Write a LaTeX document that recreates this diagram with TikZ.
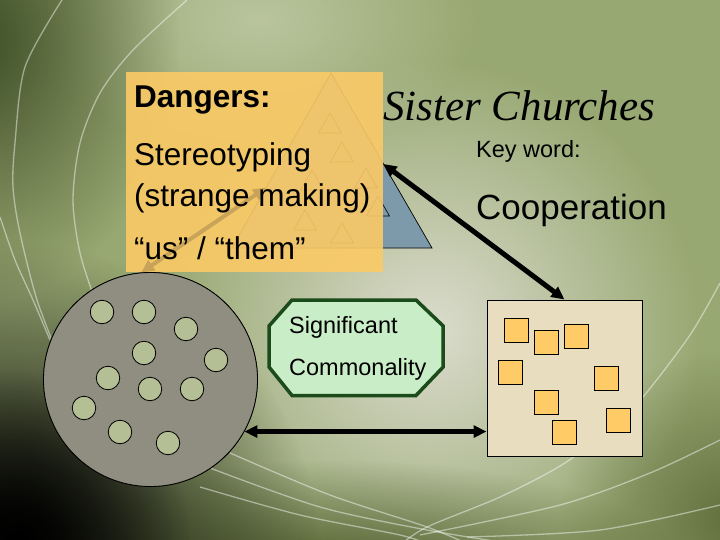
\documentclass[tikz,border=0pt]{standalone}
\usepackage{fontspec}
\setmainfont{Liberation Sans}
\newfontfamily\timesfont{Liberation Serif}
\usetikzlibrary{arrows.meta,fadings,calc}
\tikzfading[name=softdisc, inner color=transparent!0, outer color=transparent!100]
\definecolor{bgbase}{HTML}{98A872}
\definecolor{bglight}{HTML}{DCDDCE}
\definecolor{bgband}{HTML}{BAC59E}
\definecolor{bgdark}{HTML}{34441E}
\definecolor{bgbottom}{HTML}{4A5828}
\definecolor{orangebox}{HTML}{FBCA66}
\definecolor{faintarrow}{HTML}{C9A458}
\definecolor{triblue}{HTML}{7D9AAA}
\definecolor{circgray}{HTML}{908E80}
\definecolor{dotgreen}{HTML}{B5BF95}
\definecolor{sqbg}{HTML}{E8DDBF}
\definecolor{sqorange}{HTML}{FFCB66}
\definecolor{octfill}{HTML}{C9EDC6}
\definecolor{octline}{HTML}{1B4A1B}
\tikzset{
  arcline/.style={white, opacity=0.45, line width=1.3pt},
  dot/.style={circle, draw=black, line width=0.8pt, fill=dotgreen, minimum size=23.5pt, inner sep=0pt},
  tile/.style={rectangle, draw=black, line width=0.8pt, fill=sqorange, minimum size=24pt, inner sep=0pt},
  smalltri/.style={draw=black, line width=0.6pt},
  dbl/.style={line width=#1, {Triangle[length=13pt,width=12pt]}-{Triangle[length=13pt,width=12pt]}},
  txt/.style={anchor=base west, inner sep=0pt, text=black},
}
\begin{document}
\begin{tikzpicture}[x=1pt,y=-1pt]
\useasboundingbox (0,0) rectangle (720,540);
% background
\begin{scope}
\clip (0,0) rectangle (720,540);
\fill[bgbase] (0,0) rectangle (720,540);
\fill[bgband, path fading=softdisc] (260pt,-20pt) ellipse (220pt and 140pt);
\fill[bglight, path fading=softdisc] (430pt,-330pt) circle (270pt);
\fill[bgdark, path fading=softdisc, opacity=0.9] (-20pt,-40pt) ellipse (200pt and 260pt);
\fill[bgbottom, path fading=softdisc] (340pt,-580pt) ellipse (360pt and 120pt);
\fill[black, path fading=softdisc] (0pt,-560pt) circle (320pt);
\fill[black, path fading=softdisc] (20pt,-540pt) circle (170pt);
\fill[bgbottom, path fading=softdisc, opacity=0.7] (730pt,-520pt) circle (170pt);
% arcs
\draw[arcline] plot[smooth] coordinates {(62,0) (25,67) (15,143) (13,187) (20,233) (37,300) (60,360)};
\draw[arcline] plot[smooth] coordinates {(187,0) (133,50) (100,93) (80,143) (73,200) (80,253) (95,300)};
\draw[arcline] plot[smooth] coordinates {(0,217) (15,260) (33,300) (50,340)};
\draw[arcline] plot[smooth] coordinates {(230,453) (330,495) (427,527) (470,545)};
\draw[arcline] plot[smooth] coordinates {(210,468) (320,507) (427,530) (520,545)};
\draw[arcline] plot[smooth] coordinates {(200,487) (300,515) (400,535) (430,545)};
\draw[arcline] plot[smooth] coordinates {(400,545) (427,527) (500,497) (560,466) (610,430) (643,397) (690,335) (720,283)};
\draw[arcline] plot[smooth] coordinates {(420,535) (560,505) (650,473) (720,440)};
\draw[arcline] plot[smooth] coordinates {(467,537) (600,530) (720,505)};
\end{scope}
% triangle
\coordinate (tA) at (331,73);
\coordinate (tL) at (232,248);
\coordinate (tR) at (432,248);
\fill[triblue] (tA) -- (tR) -- (tL) -- cycle;
\draw[black, line width=0.7pt] (tA) -- (tR) -- (tL) -- cycle;
\foreach \x/\y in {330/113, 342/142, 366/168, 312/170, 305/210, 342/223, 378/196}{
  \draw[smalltri] (\x,\y) -- (\x+11.5,\y+20) -- (\x-11.5,\y+20) -- cycle;
}
\coordinate (tRe) at ($(tA)!0.52!(tR)$);
\coordinate (tLe) at ($(tA)!0.655!(tL)$);
% big circle
\node[circle, draw=black, line width=0.8pt, fill=circgray, minimum size=214pt, inner sep=0pt] (grp) at (150.5,379.5) {};
% orange box (semi-transparent over the triangle)
\fill[orangebox, fill opacity=0.9] (126,72) rectangle (383,272);
% faint arrow seen through the box
\draw[dbl=4pt, faintarrow] (tLe) -- (grp.95);
\node[txt, font=\fontsize{31.5}{36}\selectfont\bfseries] (dang) at (134,108) {Dangers:};
\node[txt, font=\fontsize{31.5}{36}\selectfont] (ster) at (134,166) {Stereotyping};
\node[txt, font=\fontsize{31.5}{36}\selectfont] (strg) at (134,207) {(strange making)};
\node[txt, font=\fontsize{31.5}{36}\selectfont] (usth) at (134,259) {“us” / “them”};
% circle on top of the box
\node[circle, draw=black, line width=0.8pt, fill=circgray, minimum size=214pt, inner sep=0pt] at (150.5,379.5) {};
\foreach \x/\y [count=\i] in {102/312, 144/312, 186/329, 144/353, 216/360, 108/378, 150/389, 192/389, 84/408, 120/432, 168/443}{
  \node[dot] (d\i) at (\x,\y) {};
}
% square
\node[rectangle, draw=black, line width=1pt, fill=sqbg, minimum width=155pt, minimum height=156pt, inner sep=0pt] (sq) at (564.5,378) {};
\foreach \x/\y [count=\i] in {516.3/330.3, 546.3/342.3, 576.3/336.3, 510.3/372.3, 606.3/378.3, 546.3/402.3, 564.3/432.3, 618.3/420.3}{
  \node[tile] (s\i) at (\x,\y) {};
}
% octagon
\fill[octfill] (292,300) -- (416,300) -- (443.2,326) -- (443.2,367) -- (416,395.5) -- (292,395.5) -- (269,367) -- (269,326) -- cycle;
\draw[octline, line width=3.5pt, line join=miter] (292,300) -- (416,300) -- (443.2,326) -- (443.2,367) -- (416,395.5) -- (292,395.5) -- (269,367) -- (269,326) -- cycle;
\node[txt, font=\fontsize{23.5}{28}\selectfont] (sig) at (289,333) {Significant};
\node[txt, font=\fontsize{23.5}{28}\selectfont] (com) at (289,375) {Commonality};
% arrows
\draw[dbl=5pt] (tRe) -- (sq.north);
\draw[dbl=4.5pt] (grp.-29) -- (grp.-29 -| sq.west);
% titles
\node[txt, font=\timesfont\itshape\fontsize{43}{48}\selectfont] (title) at (383,121) {Sister Churches};
\node[txt, font=\fontsize{23.5}{27}\selectfont] (kw) at (476,158) {Key word:};
\node[txt, font=\fontsize{35}{40}\selectfont] (coop) at (476,220) {Cooperation};
\end{tikzpicture}
\end{document}
